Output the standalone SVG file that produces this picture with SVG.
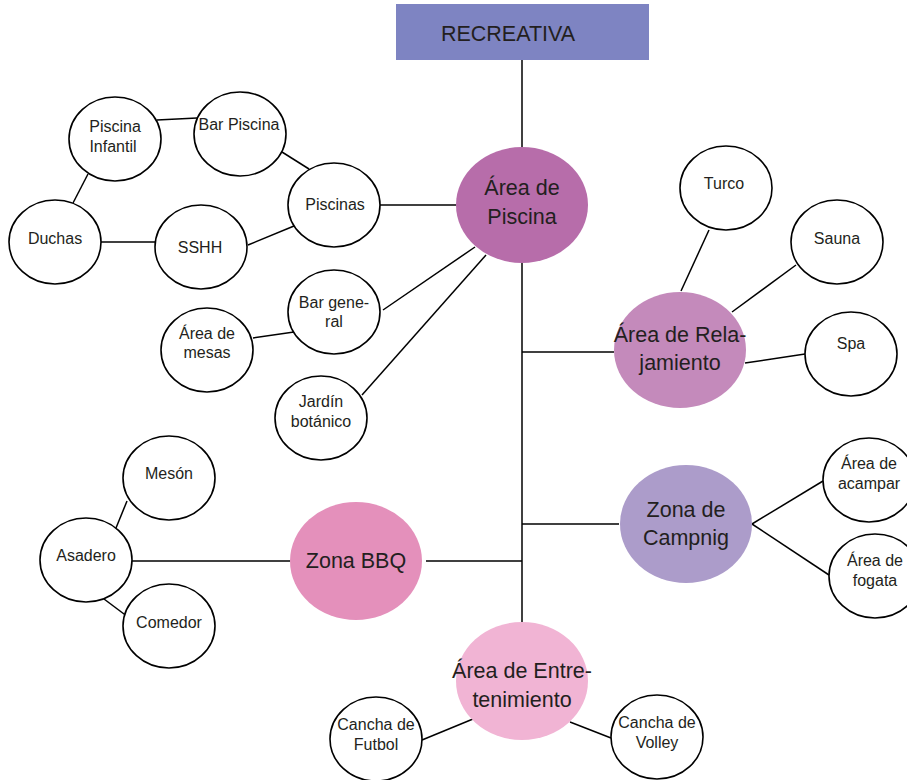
<svg xmlns="http://www.w3.org/2000/svg" width="907" height="780" viewBox="0 0 907 780">
<style>
.c{stroke:#000;stroke-width:1.5;fill:none}
.n{fill:#fff;stroke:#000;stroke-width:1.6}
.t{font-family:"Liberation Sans",Arial,sans-serif;font-size:16px;fill:#231f20;text-anchor:middle}
.b{font-family:"Liberation Sans",Arial,sans-serif;font-size:21.5px;fill:#231f20;text-anchor:middle}
</style>
<rect width="907" height="780" fill="#fff"/>
<g id="connectors">
<line class="c" x1="522" y1="60" x2="522" y2="622"/>
<line class="c" x1="522" y1="352" x2="614" y2="352"/>
<line class="c" x1="522" y1="524" x2="619" y2="524"/>
<line class="c" x1="426" y1="561" x2="522" y2="561"/>
<line class="c" x1="132" y1="561" x2="290" y2="561"/>
<line class="c" x1="380" y1="205" x2="456" y2="205"/>
<line class="c" x1="157" y1="120" x2="197" y2="118"/>
<line class="c" x1="282" y1="152" x2="309" y2="169"/>
<line class="c" x1="88" y1="174" x2="73" y2="203"/>
<line class="c" x1="101" y1="242" x2="156" y2="242"/>
<line class="c" x1="248" y1="245" x2="294" y2="226"/>
<line class="c" x1="383" y1="310" x2="475" y2="247"/>
<line class="c" x1="253" y1="338" x2="294" y2="332"/>
<line class="c" x1="362" y1="395" x2="486" y2="255"/>
<line class="c" x1="709" y1="230" x2="681" y2="291"/>
<line class="c" x1="796" y1="265" x2="732" y2="312"/>
<line class="c" x1="805" y1="354" x2="745" y2="363"/>
<line class="c" x1="752" y1="524" x2="823" y2="481"/>
<line class="c" x1="752" y1="524" x2="829" y2="575"/>
<line class="c" x1="570" y1="722" x2="611" y2="738"/>
<line class="c" x1="422" y1="740" x2="473" y2="719"/>
<line class="c" x1="127" y1="501" x2="116" y2="528"/>
<line class="c" x1="104" y1="599" x2="128" y2="617"/>
</g>
<g id="recreativa"><rect x="396" y="4" width="253" height="56" fill="#7e84c2"/><text class="b" x="508" y="41" font-size="22">RECREATIVA</text></g>
<g id="area-piscina"><ellipse cx="522" cy="205" rx="66" ry="58" fill="#b76daa"/><text class="b" x="522" y="195">Área de</text><text class="b" x="522" y="224">Piscina</text></g>
<g id="area-relajamiento"><ellipse cx="680" cy="350" rx="66" ry="58" fill="#c48abb"/><text class="b" x="680" y="342">Área de Rela-</text><text class="b" x="680" y="370">jamiento</text></g>
<g id="zona-camping"><ellipse cx="686" cy="524" rx="66" ry="59" fill="#ac9cca"/><text class="b" x="686" y="517">Zona de</text><text class="b" x="686" y="545">Campnig</text></g>
<g id="zona-bbq"><ellipse cx="356" cy="561" rx="66" ry="59" fill="#e490bb"/><text class="b" x="356" y="568">Zona BBQ</text></g>
<g id="area-entretenimiento"><ellipse cx="522" cy="681" rx="66" ry="59" fill="#f1b4d4"/><text class="b" x="522" y="678">Área de Entre-</text><text class="b" x="522" y="707">tenimiento</text></g>
<g id="piscina-infantil"><ellipse class="n" cx="115" cy="139" rx="46" ry="42"/><text class="t" x="115" y="132">Piscina</text><text class="t" x="113" y="152">Infantil</text></g>
<g id="bar-piscina"><ellipse class="n" cx="240" cy="134" rx="46" ry="42"/><text class="t" x="239" y="130">Bar Piscina</text></g>
<g id="piscinas"><ellipse class="n" cx="334" cy="205" rx="46" ry="42"/><text class="t" x="335" y="210">Piscinas</text></g>
<g id="duchas"><ellipse class="n" cx="55" cy="242" rx="46" ry="42"/><text class="t" x="55" y="244">Duchas</text></g>
<g id="sshh"><ellipse class="n" cx="201" cy="247" rx="46" ry="42"/><text class="t" x="200" y="253">SSHH</text></g>
<g id="bar-general"><ellipse class="n" cx="334" cy="312" rx="46" ry="42"/><text class="t" x="334" y="308">Bar gene-</text><text class="t" x="334" y="327">ral</text></g>
<g id="area-mesas"><ellipse class="n" cx="207" cy="350" rx="46" ry="42"/><text class="t" x="207" y="339">Área de</text><text class="t" x="207" y="358">mesas</text></g>
<g id="jardin"><ellipse class="n" cx="321" cy="418" rx="46" ry="42"/><text class="t" x="321" y="407">Jardín</text><text class="t" x="321" y="427">botánico</text></g>
<g id="turco"><ellipse class="n" cx="726" cy="188" rx="46" ry="42"/><text class="t" x="724" y="189">Turco</text></g>
<g id="sauna"><ellipse class="n" cx="837" cy="242" rx="46" ry="42"/><text class="t" x="837" y="244">Sauna</text></g>
<g id="spa"><ellipse class="n" cx="851" cy="354" rx="46" ry="42"/><text class="t" x="851" y="349">Spa</text></g>
<g id="area-acampar"><ellipse class="n" cx="869" cy="480" rx="46" ry="42"/><text class="t" x="869" y="469">Área de</text><text class="t" x="869" y="489">acampar</text></g>
<g id="area-fogata"><ellipse class="n" cx="875" cy="576" rx="46" ry="42"/><text class="t" x="875" y="566">Área de</text><text class="t" x="875" y="586">fogata</text></g>
<g id="cancha-volley"><ellipse class="n" cx="657" cy="737" rx="46" ry="42"/><text class="t" x="657" y="728">Cancha de</text><text class="t" x="657" y="748">Volley</text></g>
<g id="cancha-futbol"><ellipse class="n" cx="376" cy="739" rx="46" ry="42"/><text class="t" x="376" y="730">Cancha de</text><text class="t" x="376" y="750">Futbol</text></g>
<g id="asadero"><ellipse class="n" cx="86" cy="560" rx="46" ry="42"/><text class="t" x="86" y="561">Asadero</text></g>
<g id="meson"><ellipse class="n" cx="169" cy="478" rx="46" ry="42"/><text class="t" x="169" y="479">Mesón</text></g>
<g id="comedor"><ellipse class="n" cx="169" cy="626" rx="46" ry="42"/><text class="t" x="169" y="628">Comedor</text></g>
</svg>
